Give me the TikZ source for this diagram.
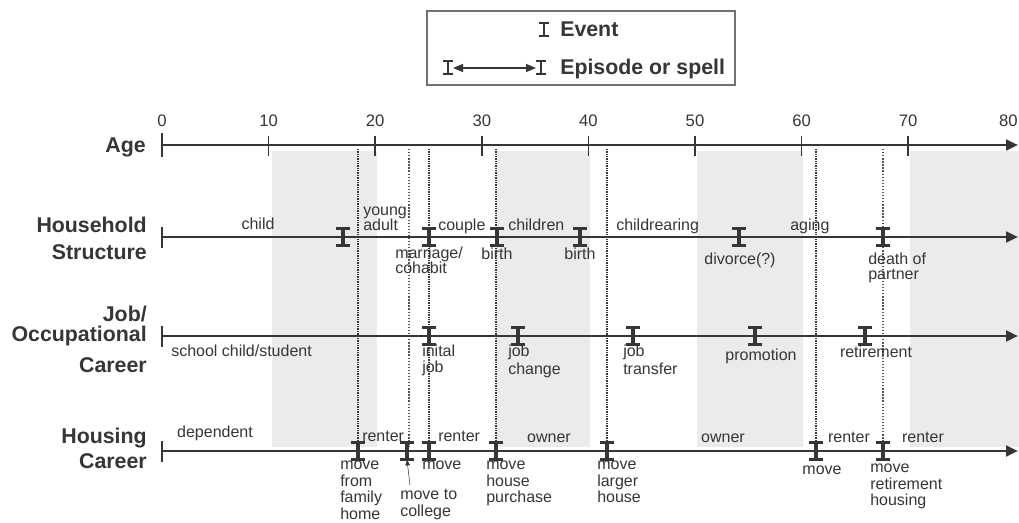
\documentclass[tikz,border=0pt]{standalone}
\usepackage{fontspec}
\setmainfont{Liberation Sans}
\usetikzlibrary{arrows.meta}
\definecolor{ink}{HTML}{363636}
\definecolor{bandgray}{HTML}{EBEBEB}
\tikzset{
  ibeam/.pic={
    \draw[draw=ink,line width=1.7pt] (-7,-8.5) -- (7,-8.5) (-7,8.5) -- (7,8.5);
    \draw[draw=ink,line width=2.3pt] (0,-8.5) -- (0,8.5);
  },
  smallibeam/.pic={
    \draw[draw=ink,line width=1.5pt] (-5,-6.5) -- (5,-6.5) (-5,6.5) -- (5,6.5);
    \draw[draw=ink,line width=2pt] (0,-6.5) -- (0,6.5);
  }
}
\begin{document}
\begin{tikzpicture}[x=0.75pt,y=-0.75pt,
  lab/.style={inner sep=0pt, font=\fontsize{12}{14}\selectfont, text=ink},
  rowlab/.style={inner sep=0pt, font=\fontsize{16}{18}\selectfont\bfseries, text=ink, anchor=base east},
  legtext/.style={inner sep=0pt, font=\fontsize{16}{18}\selectfont\bfseries, text=ink, anchor=base west},
  ticklab/.style={inner sep=0pt, font=\fontsize{12.5}{14}\selectfont, text=ink, anchor=base},
  axisline/.style={line width=2pt, draw=ink, -{Triangle[length=9pt,width=8pt]}},
  startbar/.style={line width=1.5pt, draw=ink},
  vfine/.style={draw=ink, line width=0.8pt, dash pattern=on 0.7pt off 0.6pt},
  vcoarse/.style={draw=ink!85, line width=1pt, dash pattern=on 1pt off 1.3pt},
  bandfill/.style={fill=bandgray, draw=none}
]
\path[clip, use as bounding box] (0,0) rectangle (1019,523);
\fill[white] (0,0) rectangle (1019,523);

% shaded bands
\fill[bandfill] (272,151) rectangle (377,447);
\fill[bandfill] (496,151) rectangle (590,447);
\fill[bandfill] (697,151) rectangle (803,447);
\fill[bandfill] (910,151) rectangle (1019,447);

% vertical event lines
\draw[vfine]   (358,149) -- (358,447);
\draw[vcoarse] (409,149) -- (409,447);
\draw[vfine]   (429,149) -- (429,447);
\draw[vfine]   (496,149) -- (496,447);
\draw[vfine]   (607,149) -- (607,447);
\draw[vfine]   (816,149) -- (816,447);
\draw[vcoarse] (883,149) -- (883,447);

% legend
\draw[draw=ink!70, line width=0.8pt] (427,11) rectangle (735,85);
\pic at (544,30) {smallibeam};
\node[legtext] (evt) at (560,37) {Event};
\pic at (448,68) {smallibeam};
\pic at (541,68) {smallibeam};
\coordinate (epL) at (453,68);
\coordinate (epR) at (536,68);
\draw[draw=ink, line width=0.9pt, {Triangle[length=7.5pt,width=6pt]}-{Triangle[length=7.5pt,width=6pt]}] (epL) -- (epR);
\node[legtext] (eps) at (560,75) {Episode or spell};

% Age axis
\coordinate (ageS) at (162,145);
\coordinate (ageE) at (1018,145);
\draw[axisline] (ageS) -- (ageE);
\draw[startbar] (162,133) -- (162,157);
\foreach \a in {10,20,...,70} \draw[draw=ink, line width=1.2pt] ({162+10.66*\a},136) -- ({162+10.66*\a},156);
\foreach \a in {0,10,...,70} \node[ticklab] (t\a) at ({162+10.66*\a},127) {\a};
\node[ticklab, anchor=base east] (t80) at (1018,127) {80};
\node[rowlab] (age) at (146,153) {Age};

% Household structure
\coordinate (hsS) at (162,237);
\coordinate (hsE) at (1018,237);
\draw[axisline] (hsS) -- (hsE);
\draw[startbar] (162,227) -- (162,248);
\node[rowlab] (hs1) at (147,233) {Household};
\node[rowlab] (hs2) at (147,260) {Structure};
\foreach \x in {343,429,497,580,739,883} \pic at (\x,237) {ibeam};
\node[lab, anchor=base] (hchild) at (258,230) {child};
\node[lab, anchor=base west] (hya1) at (363,216) {young};
\node[lab, anchor=base west] (hya2) at (363,231) {adult};
\node[lab, anchor=base west] (hcouple) at (438,231) {couple};
\node[lab, anchor=base west] (hchildren) at (508,231) {children};
\node[lab, anchor=base west] (hrear) at (616,231) {childrearing};
\node[lab, anchor=base west] (haging) at (790,231) {aging};
\node[lab, anchor=base west] (hmar1) at (395,259) {marriage/};
\node[lab, anchor=base west] (hmar2) at (395,274) {cohabit};
\node[lab, anchor=base] (hbirth1) at (497,260) {birth};
\node[lab, anchor=base] (hbirth2) at (580,260) {birth};
\node[lab, anchor=base] (hdiv) at (740,265) {divorce(?)};
\node[lab, anchor=base west] (hdeath1) at (868,265) {death of};
\node[lab, anchor=base west] (hdeath2) at (868,280) {partner};

% Job / occupational career
\coordinate (jbS) at (162,336);
\coordinate (jbE) at (1018,336);
\draw[axisline] (jbS) -- (jbE);
\draw[startbar] (162,326) -- (162,347);
\node[rowlab] (jb1) at (147,322) {Job/};
\node[rowlab] (jb2) at (147,342) {Occupational};
\node[rowlab] (jb3) at (147,372) {Career};
\foreach \x in {429,518,633,755,865} \pic at (\x,336) {ibeam};
\node[lab, anchor=base west] (jschool) at (171,357) {school child/student};
\node[lab, anchor=base west] (jinit1) at (422,356) {inital};
\node[lab, anchor=base west] (jinit2) at (422,373) {job};
\node[lab, anchor=base west] (jch1) at (508,357) {job};
\node[lab, anchor=base west] (jch2) at (508,374) {change};
\node[lab, anchor=base west] (jtr1) at (623,357) {job};
\node[lab, anchor=base west] (jtr2) at (623,374) {transfer};
\node[lab, anchor=base] (jprom) at (761,360) {promotion};
\node[lab, anchor=base] (jret) at (876,358) {retirement};

% Housing career
\coordinate (hoS) at (162,451);
\coordinate (hoE) at (1018,451);
\draw[axisline] (hoS) -- (hoE);
\draw[startbar] (162,441) -- (162,462);
\node[rowlab] (ho1) at (147,443) {Housing};
\node[rowlab] (ho2) at (147,468) {Career};
\foreach \x in {358,407,429,496,607,816,883} \pic at (\x,451) {ibeam};
\node[lab, anchor=base] (odep) at (215,437) {dependent};
\node[lab, anchor=base west] (oren1) at (362,441) {renter};
\node[lab, anchor=base west] (oren2) at (438,441) {renter};
\node[lab, anchor=base] (oown1) at (549,442) {owner};
\node[lab, anchor=base] (oown2) at (723,442) {owner};
\node[lab, anchor=base] (oren3) at (849,442) {renter};
\node[lab, anchor=base] (oren4) at (923,442) {renter};
\node[lab, anchor=base west] (omf1) at (340,469) {move};
\node[lab, anchor=base west] (omf2) at (340,486) {from};
\node[lab, anchor=base west] (omf3) at (340,502) {family};
\node[lab, anchor=base west] (omf4) at (340,519) {home};
\node[lab, anchor=base west] (omc1) at (400,499) {move to};
\node[lab, anchor=base west] (omc2) at (400,516) {college};
\coordinate (mctail) at (410,485);
\coordinate (mctip) at (407,460);
\draw[draw=ink, line width=0.4pt, -{Triangle[length=4pt,width=3.5pt]}] (mctail) -- (mctip);
\node[lab, anchor=base west] (omove1) at (422,469) {move};
\node[lab, anchor=base west] (omh1) at (486,469) {move};
\node[lab, anchor=base west] (omh2) at (486,486) {house};
\node[lab, anchor=base west] (omh3) at (486,502) {purchase};
\node[lab, anchor=base west] (oml1) at (597,469) {move};
\node[lab, anchor=base west] (oml2) at (597,486) {larger};
\node[lab, anchor=base west] (oml3) at (597,502) {house};
\node[lab, anchor=base] (omove2) at (822,474) {move};
\node[lab, anchor=base west] (omr1) at (870,472) {move};
\node[lab, anchor=base west] (omr2) at (870,489) {retirement};
\node[lab, anchor=base west] (omr3) at (870,505) {housing};
\end{tikzpicture}
\end{document}
